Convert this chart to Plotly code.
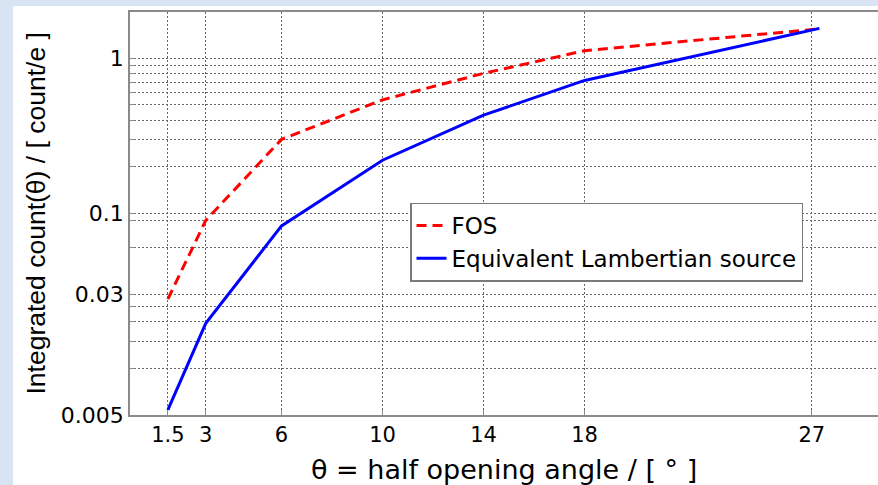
import math
import plotly.graph_objects as go

# Half opening angle (degrees) at which the integrated count was evaluated
theta = [1.5, 3, 6, 10, 14, 18, 27.3]

# Integrated count per electron for each source model
fos_count = [0.028, 0.09, 0.30, 0.54, 0.80, 1.12, 1.55]
lambertian_count = [0.0054, 0.0195, 0.083, 0.22, 0.43, 0.72, 1.56]

# Axis ticks
x_tick_vals = [1.5, 3, 6, 10, 14, 18, 27]
x_tick_text = ["1.5", "3", "6", "10", "14", "18", "27"]
y_tick_vals = [0.005, 0.01, 0.015, 0.02, 0.025, 0.03, 0.06, 0.09, 0.1,
               0.2, 0.3, 0.4, 0.5, 0.6, 0.7, 0.8, 0.9, 1]
y_tick_text = ["0.005", "", "", "", "", "0.03", "", "", "0.1",
               "", "", "", "", "", "", "", "", "1"]

W, H = 878, 485
ML, MR, MT, MB = 130, 0, 12, 70
PW, PH = W - ML - MR, H - MT - MB
TEXT = "#000000"


def px_to_paper_x(px):
    return (px - ML) / PW


def px_to_paper_y(py):
    return (H - MB - py) / PH


fig = go.Figure()
fig.add_trace(go.Scatter(
    x=theta, y=fos_count, mode="lines", name="FOS",
    line=dict(color="#ff0000", width=3, dash="10px,6px"),
))
fig.add_trace(go.Scatter(
    x=theta, y=lambertian_count, mode="lines",
    name="Equivalent Lambertian source",
    line=dict(color="#0000ff", width=3),
))

axis_common = dict(
    showgrid=True, gridcolor="#666666", gridwidth=1, griddash="2px,2px",
    showline=True, linecolor="#8a8a8a", linewidth=1.5,
    ticks="inside", ticklen=5, tickcolor="#8a8a8a", tickwidth=1,
    zeroline=False,
)

fig.update_xaxes(
    range=[0, 29.62], tickmode="array",
    tickvals=x_tick_vals, ticktext=x_tick_text, mirror=True,
    tickfont=dict(family="DejaVu Sans", size=21, color=TEXT),
    **axis_common,
)
fig.update_yaxes(
    type="log", range=[math.log10(0.005), math.log10(1.99)],
    tickmode="array", tickvals=y_tick_vals, ticktext=y_tick_text,
    tickfont=dict(family="DejaVu Sans", size=22, color=TEXT),
    **axis_common,
)

# White slide panel behind the axes
fig.add_shape(
    type="rect", xref="paper", yref="paper", layer="below",
    x0=px_to_paper_x(13), x1=px_to_paper_x(W + 10),
    y0=px_to_paper_y(H + 10), y1=px_to_paper_y(6),
    line=dict(width=0), fillcolor="white",
)

fig.add_annotation(
    text="θ = half opening angle / [ ° ]", showarrow=False,
    xref="paper", yref="paper", x=0.5, y=px_to_paper_y(469),
    xanchor="center", yanchor="middle",
    font=dict(family="DejaVu Sans", size=27, color=TEXT),
)
fig.add_annotation(
    text="Integrated count(θ) / [ count/e ]", showarrow=False,
    xref="paper", yref="paper", x=px_to_paper_x(35), y=0.5,
    xanchor="center", yanchor="middle", textangle=-90,
    font=dict(family="Liberation Sans", size=26.5, color=TEXT),
)

fig.update_layout(
    width=W, height=H,
    margin=dict(l=ML, r=MR, t=MT, b=MB),
    paper_bgcolor="#d8e4f4", plot_bgcolor="white",
    showlegend=True,
    legend=dict(
        x=px_to_paper_x(410), y=px_to_paper_y(242),
        xanchor="left", yanchor="middle",
        bgcolor="white", bordercolor="#7a7a7a", borderwidth=1.5,
        font=dict(family="DejaVu Sans", size=23, color=TEXT),
        tracegroupgap=0,
    ),
)

fig.write_html("out.html")
